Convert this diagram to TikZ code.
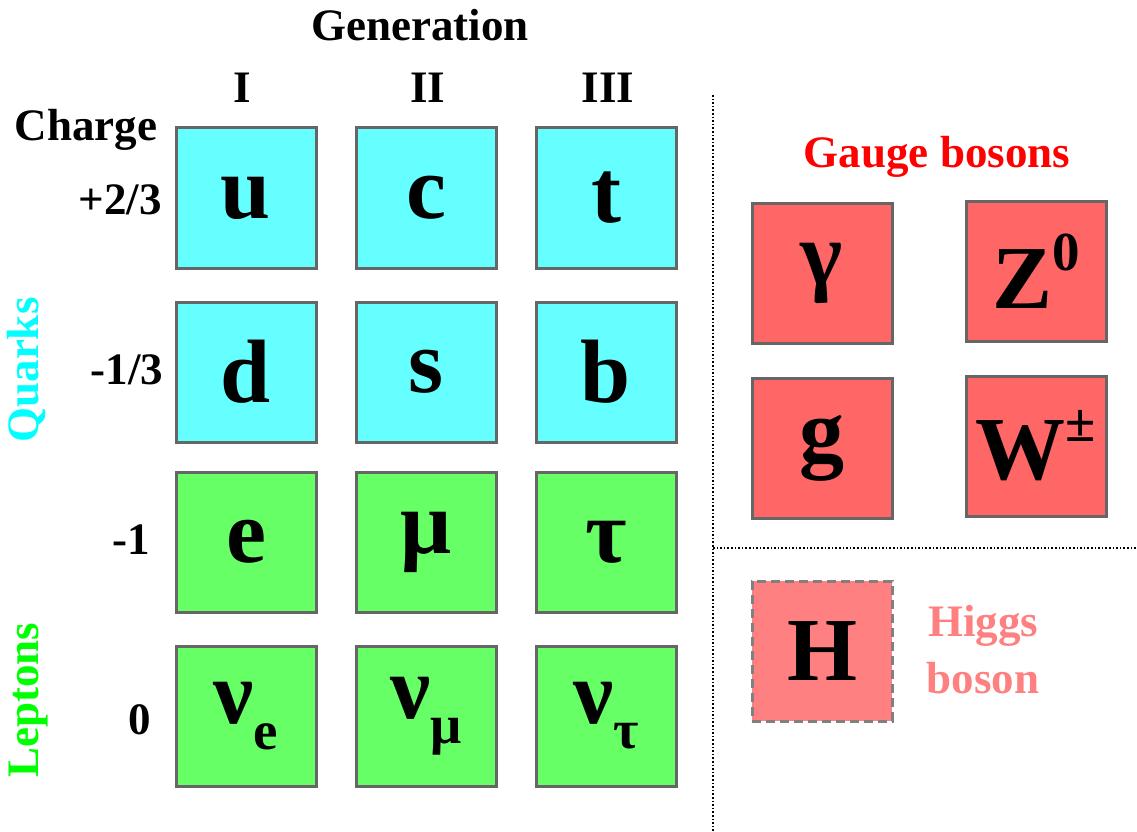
\documentclass[tikz,border=0pt]{standalone}
\usepackage{fontspec}
\setmainfont{Liberation Serif}
\definecolor{quarkfill}{HTML}{66FFFF}
\definecolor{leptonfill}{HTML}{66FF66}
\definecolor{gaugefill}{HTML}{FF6666}
\definecolor{higgsfill}{HTML}{FF8080}
\definecolor{boxedge}{HTML}{666666}
\definecolor{higgsedge}{HTML}{808080}
\definecolor{quarktext}{HTML}{00FFFF}
\definecolor{leptontext}{HTML}{00FF00}
\definecolor{gaugetext}{HTML}{FF0000}
\definecolor{higgstext}{HTML}{FF8080}
\newcommand{\bigsym}{\fontsize{90}{90}\selectfont\bfseries}
\newcommand{\lbl}{\fontsize{45}{57}\selectfont\bfseries}
\newcommand{\subsym}[1]{\raisebox{-0.28em}{\fontsize{55}{55}\selectfont #1}}
\newcommand{\supsym}[1]{\raisebox{0.42em}{\fontsize{55}{55}\selectfont #1}}
\begin{document}
\begin{tikzpicture}[x=1pt,y=-1pt,
  particle/.style={draw=boxedge, line width=3pt, minimum size=140pt,
    inner sep=0pt, font=\bigsym},
  quark/.style={particle, fill=quarkfill},
  lepton/.style={particle, fill=leptonfill},
  gauge/.style={particle, fill=gaugefill},
  higgs/.style={particle, fill=higgsfill, draw=higgsedge,
    dash pattern=on 9pt off 5pt},
  label/.style={font=\lbl, inner sep=0pt, align=center},
  divider/.style={dotted, line width=1.6pt}]
\useasboundingbox (0,0) rectangle (1137,832);

% fermion grid
\node[quark] (u) at (246,198) {u};
\node[quark] (c) at (426,198) {c};
\node[quark] (t) at (606,198) {t};
\node[quark] (d) at (246,372) {d};
\node[quark] (s) at (426,372) {s};
\node[quark] (b) at (606,372) {b};
\node[lepton] (e) at (246,542) {e};
\node[lepton] (mu) at (426,542) {μ};
\node[lepton] (tau) at (606,542) {τ};
\node[lepton] (nue) at (246,716) {ν\subsym{e}};
\node[lepton] (numu) at (426,716) {ν\subsym{μ}};
\node[lepton] (nutau) at (606,716) {ν\subsym{τ}};

% generation and charge labels
\node[label] (gen) at (420,25) {Generation};
\node[label] (g1) at (242,88) {I};
\node[label] (g2) at (428,88) {II};
\node[label] (g3) at (608,88) {III};
\node[label] (charge) at (86,130) {Charge};
\node[label] (q1) at (120,200) {+2/3};
\node[label] (q2) at (127,370) {-1/3};
\node[label] (q3) at (131,540) {-1};
\node[label] (q4) at (140,720) {0};
\node[label, rotate=90, text=quarktext] (quarks) at (27,370) {Quarks};
\node[label, rotate=90, text=leptontext] (leptons) at (29,700) {Leptons};

% bosons
\node[label, text=gaugetext] (gaugelbl) at (937,157) {Gauge bosons};
\node[gauge] (gamma) at (822,273) {γ};
\node[gauge] (z) at (1036,271) {Z\supsym{0}};
\node[gauge] (gluon) at (822,448) {g};
\node[gauge] (w) at (1036,446) {W\supsym{±}};
\node[higgs] (h) at (822,651) {H};
\node[label, text=higgstext] (higgslbl) at (983,650) {Higgs\\boson};

% dotted separators
\coordinate (vtop) at (713,95);
\coordinate (vbot) at (713,832);
\coordinate (hleft) at (713,548);
\coordinate (hright) at (1137,548);
\draw[divider] (vtop) -- (vbot);
\draw[divider] (hleft) -- (hright);
\end{tikzpicture}
\end{document}
